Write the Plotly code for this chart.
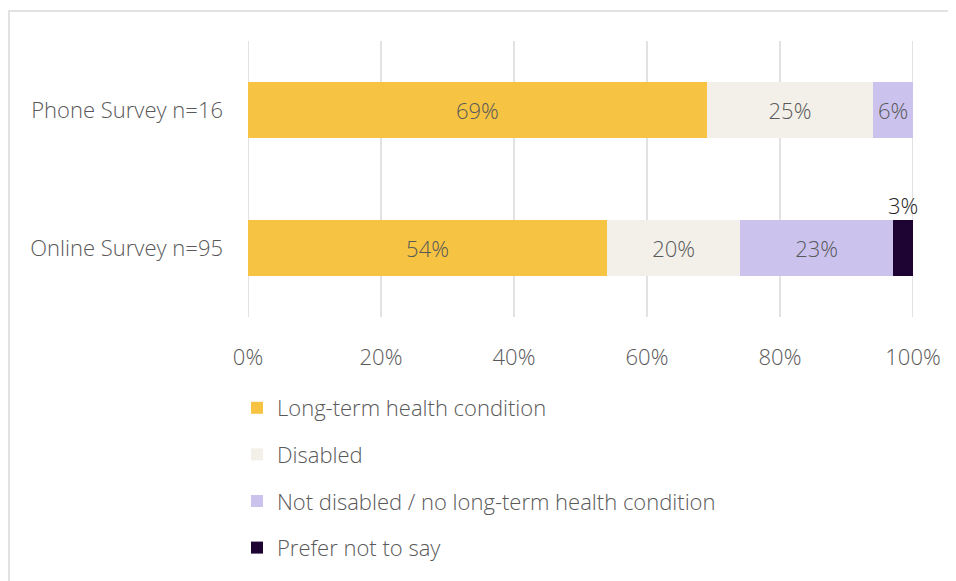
import plotly.graph_objects as go

categories = ["Phone Survey n=16", "Online Survey n=95"]
series_names = ["Long-term health condition", "Disabled",
                "Not disabled / no long-term health condition", "Prefer not to say"]
long_term = [69, 54]
disabled = [25, 20]
not_disabled = [6, 23]
prefer_not = [0, 3]
tick_vals = [0, 20, 40, 60, 80, 100]
tick_text = ["0%", "20%", "40%", "60%", "80%", "100%"]

colors = ["#F6C342", "#F3F0EA", "#CBC3EE", "#1E0433"]
series = [long_term, disabled, not_disabled, prefer_not]
FONT = "Open Sans"
GRAY = "#595959"
FS = 22

# plot area in figure pixels
L, T, R, B = 240, 33, 905, 309
W, H = 956, 581
PW, PH = R - L, B - T

fig = go.Figure()
for i, (name, vals) in enumerate(zip(series_names, series)):
    inside = i < 3
    fig.add_trace(go.Bar(
        y=categories, x=vals, name=name, orientation="h",
        marker=dict(color=colors[i], line=dict(width=0)),
        text=[f"{v}%" if (v > 0 and inside) else "" for v in vals],
        textposition="inside", insidetextanchor="middle",
        textfont=dict(family=FONT, size=FS, color=GRAY, weight=300),
        legendgroup=f"g{i}", hoverinfo="skip",
    ))

# outside label for the small "Prefer not to say" segment
for c, a, b, cc, d in zip(categories, long_term, disabled, not_disabled, prefer_not):
    if d > 0:
        fig.add_annotation(x=a + b + cc + d / 2, y=c, text=f"{d}%", showarrow=False,
                           yshift=43, font=dict(family=FONT, size=FS, color="#262626", weight=300))

shapes = [dict(type="rect", xref="paper", yref="paper",
               x0=(1 - L) / PW, x1=(W + 10 - L) / PW,
               y0=(B - (H + 10)) / PH, y1=(B - 3) / PH,
               line=dict(color="#D9D9D9", width=1.5), fillcolor="rgba(0,0,0,0)", layer="below")]
# vertical gridlines drawn at every tick (edges included)
for tv in tick_vals:
    shapes.append(dict(type="line", xref="x", yref="paper", x0=tv, x1=tv, y0=0, y1=1,
                       line=dict(color="#D9D9D9", width=1.5), layer="below"))

fig.update_layout(
    barmode="stack", bargap=0.6,
    width=W, height=H,
    margin=dict(l=L, r=W - R, t=T, b=H - B),
    paper_bgcolor="white", plot_bgcolor="white",
    font=dict(family=FONT, size=FS, color=GRAY, weight=300),
    uniformtext=dict(minsize=FS, mode="show"),
    showlegend=True,
    legend=dict(orientation="v", x=(229 - L) / PW, xanchor="left",
                y=(B - 379) / PH, yanchor="top",
                font=dict(family=FONT, size=FS, color=GRAY, weight=300),
                tracegroupgap=15, traceorder="grouped", bgcolor="rgba(0,0,0,0)"),
    xaxis=dict(range=[0, 100], tickmode="array", tickvals=tick_vals, ticktext=tick_text,
               showgrid=False, zeroline=False, showline=False, ticks="",
               ticklabelstandoff=25, tickfont=dict(family=FONT, size=FS, color=GRAY, weight=300)),
    yaxis=dict(categoryorder="array", categoryarray=categories, autorange="reversed",
               showgrid=False, zeroline=False, showline=False, ticks="",
               ticklabelstandoff=24, tickfont=dict(family=FONT, size=FS, color=GRAY, weight=300)),
    shapes=shapes,
)

fig.write_html("out.html")
